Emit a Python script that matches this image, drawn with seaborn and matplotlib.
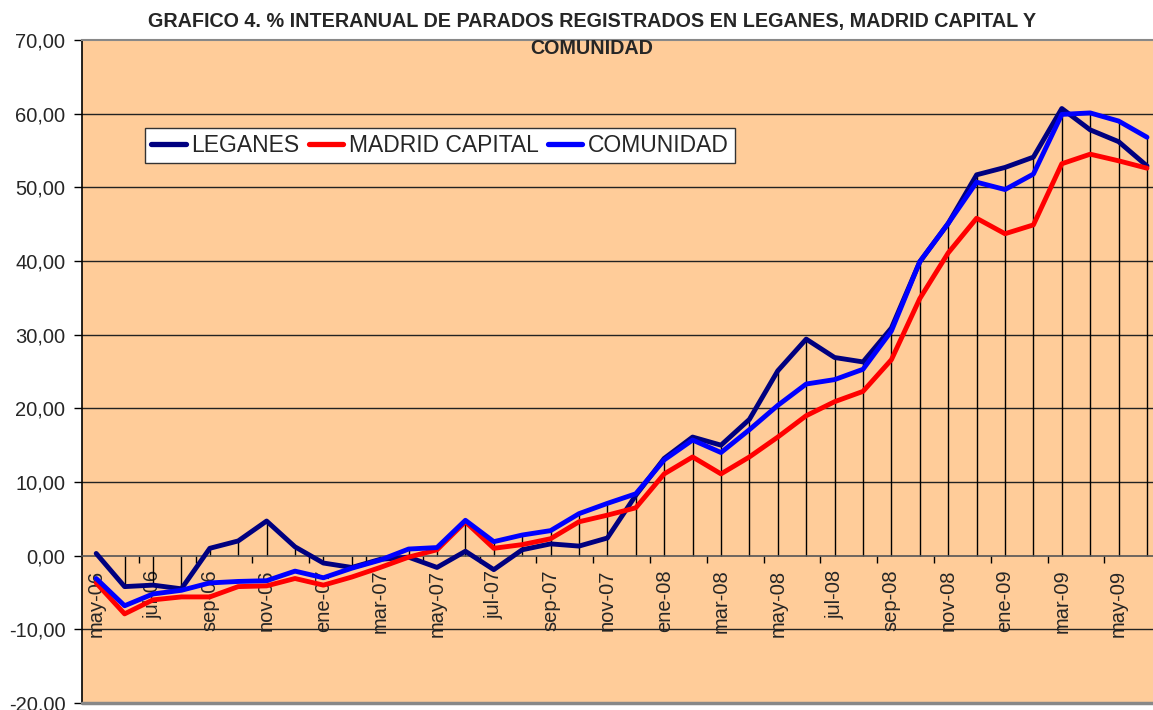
import matplotlib
matplotlib.use("Agg")
import matplotlib.pyplot as plt
import numpy as np
import pandas as pd
import seaborn as sns
from matplotlib.ticker import FixedLocator, FuncFormatter
from matplotlib.lines import Line2D

# ---------------- data ----------------
months = ["may-06", "jun-06", "jul-06", "ago-06", "sep-06", "oct-06", "nov-06", "dic-06",
          "ene-07", "feb-07", "mar-07", "abr-07", "may-07", "jun-07", "jul-07", "ago-07",
          "sep-07", "oct-07", "nov-07", "dic-07", "ene-08", "feb-08", "mar-08", "abr-08",
          "may-08", "jun-08", "jul-08", "ago-08", "sep-08", "oct-08", "nov-08", "dic-08",
          "ene-09", "feb-09", "mar-09", "abr-09", "may-09", "jun-09"]
leganes = [0.3, -4.2, -4.0, -4.5, 1.0, 2.0, 4.7, 1.2, -1.0, -1.6, -0.5, -0.2, -1.6, 0.6,
           -1.9, 0.8, 1.6, 1.3, 2.4, 8.2, 13.2, 16.1, 15.0, 18.5, 25.1, 29.4, 26.9, 26.3,
           30.9, 39.9, 45.1, 51.7, 52.7, 54.1, 60.7, 57.8, 56.2, 52.9]
madrid = [-3.7, -7.9, -6.0, -5.6, -5.6, -4.2, -4.1, -3.1, -4.0, -2.9, -1.6, -0.2, 0.8, 4.6,
          1.0, 1.5, 2.3, 4.6, 5.5, 6.5, 11.1, 13.4, 11.1, 13.4, 16.1, 19.0, 20.9, 22.3,
          26.6, 34.9, 41.1, 45.8, 43.7, 44.9, 53.2, 54.5, 53.6, 52.6]
comunidad = [-3.1, -6.8, -5.2, -4.7, -3.7, -3.5, -3.4, -2.1, -3.0, -1.7, -0.6, 0.9, 1.1, 4.8,
             1.9, 2.8, 3.4, 5.7, 7.1, 8.4, 13.0, 15.7, 14.0, 17.1, 20.4, 23.3, 23.9, 25.3,
             30.5, 39.9, 45.1, 50.7, 49.7, 51.8, 59.9, 60.1, 59.0, 56.8]
series_names = ["LEGANES", "MADRID CAPITAL", "COMUNIDAD"]
series_colors = ["#000080", "#FF0000", "#0000FF"]
y_ticks = list(range(-20, 80, 10))
title_lines = ["GRAFICO 4. % INTERANUAL DE PARADOS REGISTRADOS EN LEGANES, MADRID CAPITAL Y",
               "COMUNIDAD"]

# ---------------- figure ----------------
sns.set_style("white")
plt.rcParams["font.family"] = ["Liberation Sans", "DejaVu Sans"]

W, H = 1153, 710
fig = plt.figure(figsize=(W / 100, H / 100), dpi=100)
fig.patch.set_facecolor("white")

# plot area: left 82px, top 40px, bottom 703px, category width 28.4px
cat_w = 28.4
n = len(months)
left_px, top_px, bot_px = 82, 40, 703
ax = fig.add_axes([left_px / W, 1 - bot_px / H, (n * cat_w) / W, (bot_px - top_px) / H])
ax.set_facecolor("#FFCC99")

idx = np.arange(n)
df = pd.DataFrame({
    "idx": np.tile(idx, 3),
    "valor": leganes + madrid + comunidad,
    "serie": np.repeat(series_names, n),
})

# drop lines from axis to highest series value
tops = np.max(np.vstack([leganes, madrid, comunidad]), axis=0)
ax.vlines(idx, 0, tops, colors="black", linewidth=1.0, zorder=2)

sns.lineplot(data=df, x="idx", y="valor", hue="serie", hue_order=series_names,
             palette=series_colors, linewidth=3.5, sort=False, legend=False,
             ax=ax, zorder=3)

ax.set_xlim(-0.5, n - 0.5)
ax.set_ylim(-20, 70)
ax.set_xlabel("")
ax.set_ylabel("")

# horizontal gridlines
for v in y_ticks:
    if v not in (-20, 0, 70):
        ax.axhline(v, color="#222222", linewidth=1.0, zorder=1)

# y axis
ax.yaxis.set_major_locator(FixedLocator(y_ticks))
ax.yaxis.set_major_formatter(FuncFormatter(lambda v, p: f"{v:.2f}".replace(".", ",")))
ax.tick_params(axis="y", which="major", direction="out", length=6, width=1,
               color="black", labelsize=14.5, pad=6, left=True)

# x axis at zero
ax.spines["bottom"].set_position(("data", 0))
ax.spines["bottom"].set_color("#555555")
ax.spines["bottom"].set_linewidth(1.2)
ax.spines["left"].set_color("black")
ax.spines["left"].set_linewidth(1.2)
ax.spines["top"].set_color("#888888")
ax.spines["top"].set_linewidth(1.5)
ax.spines["right"].set_visible(False)
ax.axhline(-20, color="#888888", linewidth=2.5, zorder=4, clip_on=False)

ax.xaxis.set_major_locator(FixedLocator(idx[::2]))
ax.set_xticklabels(months[::2], rotation=90, fontsize=14.5)
ax.xaxis.set_minor_locator(FixedLocator(idx[1::2] + 0.5))
ax.tick_params(axis="x", which="major", length=0, pad=10, bottom=True)
ax.tick_params(axis="x", which="minor", length=5, width=1, color="black",
               direction="out", bottom=True)
for lab in ax.get_xticklabels():
    lab.set_va("top")

# legend
handles = [Line2D([0], [0], color=c, linewidth=3.8, solid_capstyle="round")
           for c in series_colors]
leg = ax.legend(handles, series_names, ncol=3, loc="upper left",
                bbox_to_anchor=(145 / W, 1 - 128 / H), bbox_transform=fig.transFigure,
                fontsize=16.5, frameon=True, fancybox=False, framealpha=1,
                edgecolor="#333333", facecolor="white", borderpad=0.27,
                handlelength=1.5, handletextpad=0.25, columnspacing=0.4,
                borderaxespad=0)
leg.get_frame().set_linewidth(1.0)

# title
fig.text(592 / W, 1 - 22 / H, title_lines[0], ha="center", va="center",
         fontsize=14.2, fontweight="bold")
fig.text(592 / W, 1 - 48 / H, title_lines[1], ha="center", va="center",
         fontsize=14.2, fontweight="bold", zorder=10)

fig.savefig("out.png", dpi=100, facecolor="white")
